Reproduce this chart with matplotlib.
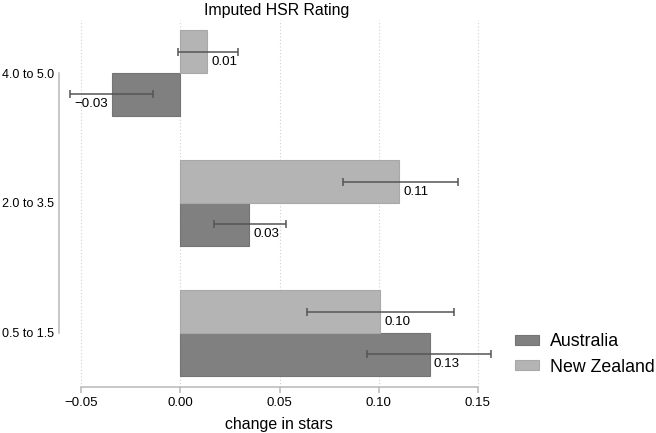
import matplotlib
matplotlib.use("Agg")
import matplotlib.pyplot as plt
from matplotlib.patches import Patch
import numpy as np

plt.rcParams['font.family'] = ['Liberation Sans', 'DejaVu Sans']

# data
categories = ["0.5 to 1.5", "2.0 to 3.5", "4.0 to 5.0"]
aus = [0.1258, 0.0348, -0.0348]
aus_lo = [0.0944, 0.0167, -0.0560]
aus_hi = [0.1570, 0.0535, -0.0139]
nz = [0.1010, 0.1106, 0.0136]
nz_lo = [0.0640, 0.0820, -0.0015]
nz_hi = [0.1380, 0.1400, 0.0290]
xticks = [-0.05, 0.00, 0.05, 0.10, 0.15]

aus_col = "#808080"
nz_col = "#b4b4b4"
err_col = "#555555"
axis_col = "#b8b8b8"

W, H = 656, 433
fig = plt.figure(figsize=(W / 100, H / 100), dpi=100)
ax = fig.add_axes([59 / W, 1 - 387 / H, (500 - 59) / W, (387 - 20) / H])

pos = np.arange(len(categories))
bh = 0.33
y_nz = pos + bh / 2
y_aus = pos - bh / 2

ax.barh(y_aus, aus, height=bh, color=aus_col, edgecolor="#747474", linewidth=0.8, zorder=2)
ax.barh(y_nz, nz, height=bh, color=nz_col, edgecolor="#a8a8a8", linewidth=0.8, zorder=2)

for ys, v, lo, hi in [(y_aus, aus, aus_lo, aus_hi), (y_nz, nz, nz_lo, nz_hi)]:
    v = np.array(v)
    xerr = [v - np.array(lo), np.array(hi) - v]
    ax.errorbar(v, ys, xerr=xerr, fmt="none", ecolor=err_col, elinewidth=1.1,
                capsize=2.6, capthick=1.1, zorder=3, clip_on=False)
    for y, val in zip(ys, v):
        if val >= 0:
            ax.annotate(f"{val:.2f}".replace("-", "\u2212"), (val, y), xytext=(2.8, -7.2),
                        textcoords="offset points", ha="left", va="center", fontsize=9.6, zorder=4)
        else:
            ax.annotate(f"{val:.2f}".replace("-", "\u2212"), (val, y), xytext=(-2.2, -7.2),
                        textcoords="offset points", ha="right", va="center", fontsize=9.6, zorder=4)

ax.set_xlim(-0.06136, 0.16136)
ax.set_ylim(-0.4154, 2.4077)

ax.set_xticks(xticks)
ax.set_xticklabels([f"{t:.2f}".replace("-", "\u2212") for t in xticks], fontsize=9.5)
ax.set_yticks(pos)
ax.set_yticklabels(categories, fontsize=9)
ax.tick_params(axis="y", length=0, pad=3.5)
ax.tick_params(axis="x", length=4, width=1.1, color=axis_col, pad=3)

ax.grid(axis="x", linestyle=(0, (1, 2)), color="#cfcfcf", linewidth=0.8, zorder=0)
ax.set_axisbelow(True)

for s in ["top", "right"]:
    ax.spines[s].set_visible(False)
ax.spines["left"].set_bounds(0, 2)
ax.spines["left"].set_color(axis_col)
ax.spines["left"].set_linewidth(1.1)
ax.spines["bottom"].set_bounds(-0.05, 0.15)
ax.spines["bottom"].set_color(axis_col)
ax.spines["bottom"].set_linewidth(1.1)

fig.text(277 / W, 1 - 10 / H, "Imputed HSR Rating", ha="center", va="center", fontsize=11.4)
fig.text(279 / W, 1 - 424 / H, "change in stars", ha="center", va="center", fontsize=11.4)

handles = [Patch(facecolor=aus_col, edgecolor="#747474", linewidth=0.8),
           Patch(facecolor=nz_col, edgecolor="#a8a8a8", linewidth=0.8)]
fig.legend(handles, ["Australia", "New Zealand"], loc="center left",
           bbox_to_anchor=(515 / W, 1 - 354.5 / H), frameon=False, fontsize=12.8,
           handlelength=1.35, handleheight=0.45, handletextpad=0.6,
           labelspacing=0.45, borderpad=0, borderaxespad=0)

fig.savefig("out.png", dpi=100)
